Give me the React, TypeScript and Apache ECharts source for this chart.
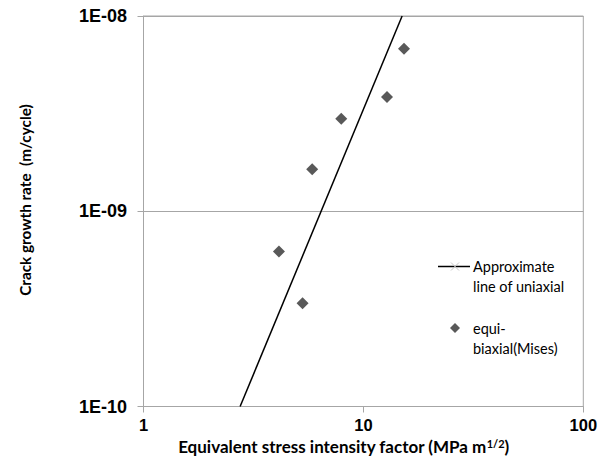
import React, { useEffect, useRef } from "react";
import * as echarts from "echarts";

const xTickLabels = ["1", "10", "100"];
const yTickLabels = ["1E-10", "1E-09", "1E-08"];
const lineSeriesName = "Approximate line of uniaxial";
const lineK = [2.75, 15.0];
const lineRate = [1e-10, 1e-8];
const scatterSeriesName = "equi-biaxial(Mises)";
const scatterK = [15.3, 12.8, 7.93, 5.85, 4.13, 5.29];
const scatterRate = [6.8e-9, 3.85e-9, 2.98e-9, 1.64e-9, 6.22e-10, 3.38e-10];
const xTitle = "Equivalent stress intensity factor (MPa m";
const xTitleSup = "1/2";
const yTitle = "Crack growth rate  (m/cycle)";

export default function App() {
  const ref = useRef<HTMLDivElement>(null);
  useEffect(() => {
    if (!ref.current) return;
    const chart = echarts.init(ref.current, undefined, { renderer: "svg" });
    const tickFont = { fontFamily: "Liberation Sans", fontWeight: "bold" as const, fontSize: 18, color: "#000" };
    const titleFont = "Lato";
    const legendFont = { fontFamily: titleFont, fontSize: 14.5, fill: "#000", verticalAlign: "middle" as const };
    chart.setOption({
      animation: false,
      backgroundColor: "#fff",
      grid: { left: 143.5, top: 16, right: 27.7, bottom: 49.5, show: true, borderColor: "#a6a6a6", borderWidth: 1 },
      xAxis: {
        type: "log",
        logBase: 10,
        min: 1,
        max: 100,
        axisLine: { lineStyle: { color: "#a6a6a6", width: 1 } },
        axisTick: { show: true, length: 6, lineStyle: { color: "#a6a6a6" } },
        minorTick: { show: false },
        splitLine: { show: false },
        axisLabel: {
          ...tickFont,
          fontSize: 16.5,
          margin: 10,
          formatter: (v: number) => xTickLabels[Math.round(Math.log10(v))] ?? "",
        },
      },
      yAxis: {
        type: "log",
        logBase: 10,
        min: 1e-10,
        max: 1e-8,
        axisLine: { show: true, lineStyle: { color: "#a6a6a6", width: 1 } },
        axisTick: { show: true, length: 6, lineStyle: { color: "#a6a6a6" } },
        splitLine: { show: true, lineStyle: { color: "#a6a6a6", width: 1 } },
        axisLabel: {
          ...tickFont,
          margin: 16.5,
          formatter: (v: number) => yTickLabels[Math.round(Math.log10(v)) + 10] ?? "",
        },
      },
      series: [
        {
          name: lineSeriesName,
          type: "line",
          data: lineK.map((k, i) => [k, lineRate[i]]),
          showSymbol: false,
          lineStyle: { color: "#000", width: 1.5 },
          z: 3,
        },
        {
          name: scatterSeriesName,
          type: "scatter",
          data: scatterK.map((k, i) => [k, scatterRate[i]]),
          symbol: "diamond",
          symbolSize: 12,
          itemStyle: { color: "#595959", opacity: 1 },
          z: 4,
        },
      ],
      graphic: [
        {
          type: "text",
          x: 343.5,
          y: 446.5,
          style: {
            text: `{t|${xTitle}}{s|${xTitleSup}}{t|)}`,
            align: "center",
            verticalAlign: "middle",
            rich: {
              t: { fontFamily: titleFont, fontWeight: "bold", fontSize: 17, lineHeight: 15, fill: "#000", color: "#000" },
              s: {
                fontFamily: titleFont,
                fontWeight: "bold",
                fontSize: 11,
                lineHeight: 8,
                padding: [0, 0, 7, 0],
                fill: "#000",
                color: "#000",
              },
            },
          },
        },
        {
          type: "text",
          x: 25,
          y: 200,
          rotation: Math.PI / 2,
          style: {
            text: yTitle,
            align: "center",
            verticalAlign: "middle",
            fontFamily: titleFont,
            fontWeight: "bold",
            fontSize: 15.3,
            fill: "#000",
          },
        },
        { type: "line", shape: { x1: 438, y1: 266.5, x2: 470, y2: 266.5 }, style: { stroke: "#000", lineWidth: 1.5 } },
        { type: "line", shape: { x1: 451, y1: 262.5, x2: 459, y2: 270.5 }, style: { stroke: "#c8c8c8", lineWidth: 1 } },
        { type: "line", shape: { x1: 451, y1: 270.5, x2: 459, y2: 262.5 }, style: { stroke: "#c8c8c8", lineWidth: 1 } },
        { type: "text", x: 473, y: 266.5, style: { text: "Approximate", ...legendFont } },
        { type: "text", x: 473, y: 286.5, style: { text: "line of uniaxial", ...legendFont } },
        {
          type: "polygon",
          shape: { points: [[455, 323], [460, 328], [455, 333], [450, 328]] },
          style: { fill: "#595959" },
        },
        { type: "text", x: 473, y: 328, style: { text: "equi-", ...legendFont } },
        { type: "text", x: 473, y: 348, style: { text: "biaxial(Mises)", ...legendFont } },
      ],
    });
    return () => chart.dispose();
  }, []);
  return <div ref={ref} style={{ position: "fixed", left: 0, top: 0, width: 611, height: 456 }} />;
}
